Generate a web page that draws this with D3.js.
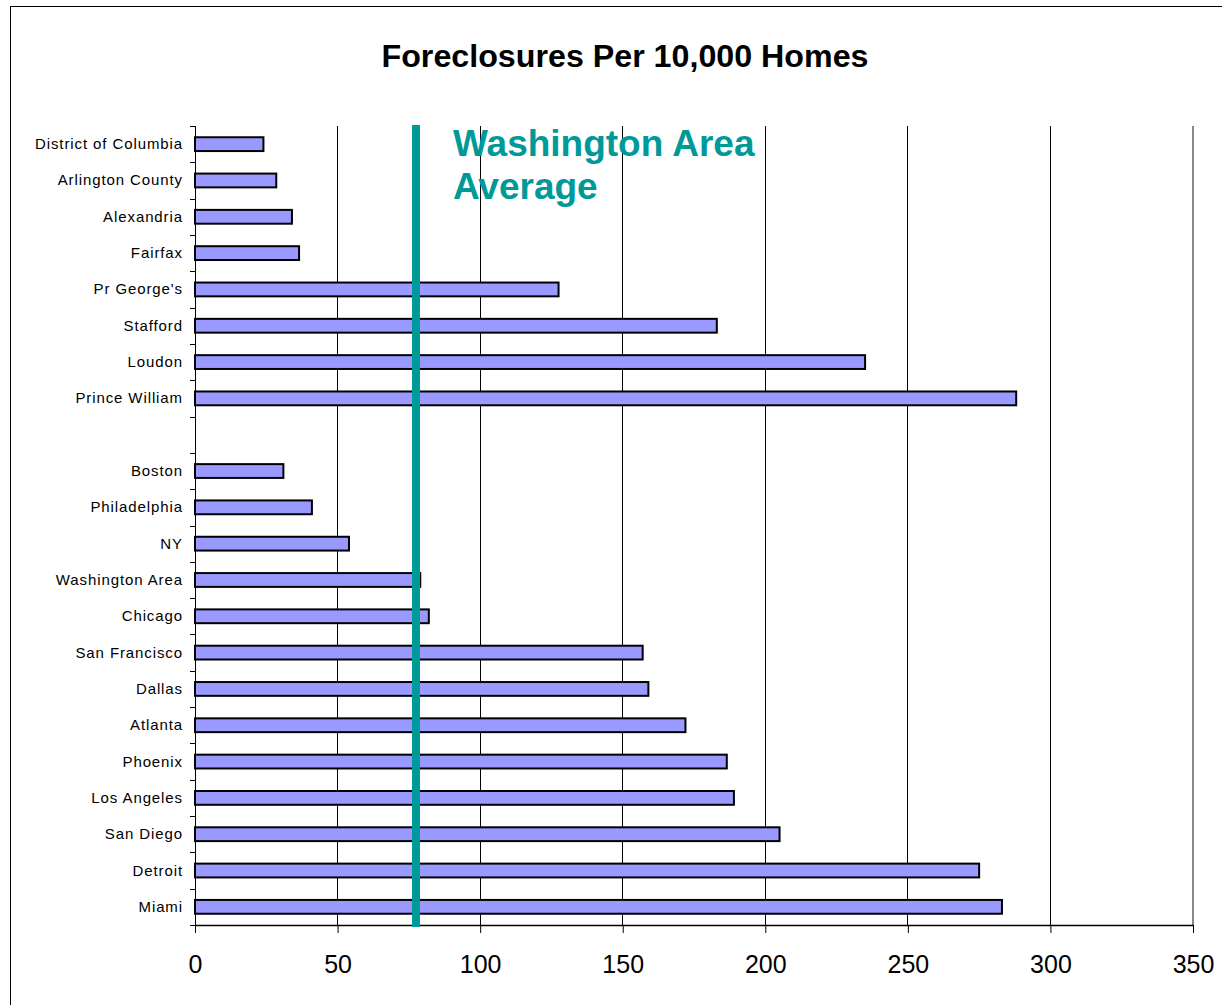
<!DOCTYPE html>
<html><head><meta charset="utf-8">
<script src="https://cdn.jsdelivr.net/npm/d3@7/dist/d3.min.js"></script>
<style>body{margin:0;background:#fff;font-family:"Liberation Sans",Arial,sans-serif}</style>
</head><body><svg id="c" width="1222" height="1005"></svg>
<script>
const categories = ["District of Columbia","Arlington County","Alexandria","Fairfax","Pr George's","Stafford","Loudon","Prince William","","Boston","Philadelphia","NY","Washington Area","Chicago","San Francisco","Dallas","Atlanta","Phoenix","Los Angeles","San Diego","Detroit","Miami"];
const values = [24,28.5,34,36.5,127.5,183,235,288,null,31,41,54,79,82,157,159,172,186.5,189,205,275,283];
const xTicks = [0,50,100,150,200,250,300,350];
const averageValue = 77.5;
const title = "Foreclosures Per 10,000 Homes";
const annotation = ["Washington Area","Average"];

const svg = d3.select("#c");
svg.append("rect").attr("x",10.5).attr("y",6.5).attr("width",1230).attr("height",1020).attr("fill","#fff").attr("stroke","#000").attr("stroke-width",1);

const x = d3.scaleLinear().domain([0,350]).range([195,1193]);
const y = d3.scaleBand().domain(categories.map((c,i)=>i)).range([126,925]).paddingInner(0.62).paddingOuter(0.31);
const yb = d3.scaleBand().domain(categories.map((c,i)=>i)).range([126,925]);

svg.append("text").attr("x",625).attr("y",67).attr("text-anchor","middle").attr("font-size",32).attr("font-weight","bold").attr("textLength",487).attr("lengthAdjust","spacingAndGlyphs").text(title);

// gridlines
svg.append("g").selectAll("line").data(xTicks.slice(1)).join("line")
  .attr("x1",d=>x(d)).attr("x2",d=>x(d)).attr("y1",126).attr("y2",925)
  .attr("stroke",d=>d===350?"#888":"#000").attr("stroke-width",d=>d===350?2:1).attr("shape-rendering","crispEdges");

// bars
svg.append("g").selectAll("rect").data(values.map((v,i)=>({v,i})).filter(d=>d.v!=null)).join("rect")
  .attr("x",x(0)).attr("y",d=>y(d.i)).attr("width",d=>x(d.v)-x(0)).attr("height",y.bandwidth())
  .attr("fill","#9999ff").attr("stroke","#000").attr("stroke-width",2);

// y axis
const ya = svg.append("g");
ya.append("line").attr("x1",195.5).attr("x2",195.5).attr("y1",126).attr("y2",925).attr("stroke","#000");
ya.selectAll("line.t").data(d3.range(categories.length+1)).join("line").attr("class","t")
  .attr("x1",190).attr("x2",195).attr("y1",i=>Math.round(126+i*yb.step())+0.5).attr("y2",i=>Math.round(126+i*yb.step())+0.5).attr("stroke","#000");
ya.selectAll("text").data(categories.map((c,i)=>({c,i}))).join("text")
  .attr("x",183).attr("y",d=>yb(d.i)+yb.bandwidth()/2+5).attr("text-anchor","end").attr("font-size",15).attr("letter-spacing",0.9).text(d=>d.c);

// x axis
const xa = svg.append("g").attr("transform","translate(0,925)").call(d3.axisBottom(x).tickValues(xTicks).tickSize(8).tickPadding(22).tickSizeOuter(0));
xa.select(".domain").attr("stroke","#000").attr("stroke-width",1.5);
xa.selectAll("text").attr("font-size",25).attr("font-family","'Liberation Sans',Arial,sans-serif").attr("fill","#000");

// average line
svg.append("line").attr("x1",x(averageValue)).attr("x2",x(averageValue)).attr("y1",125).attr("y2",927).attr("stroke","#009999").attr("stroke-width",8);

svg.append("text").attr("fill","#009999").attr("font-size",37).attr("font-weight","bold")
  .selectAll("tspan").data(annotation).join("tspan").attr("x",453).attr("y",(d,i)=>156+i*43).text(d=>d);
</script></body></html>
